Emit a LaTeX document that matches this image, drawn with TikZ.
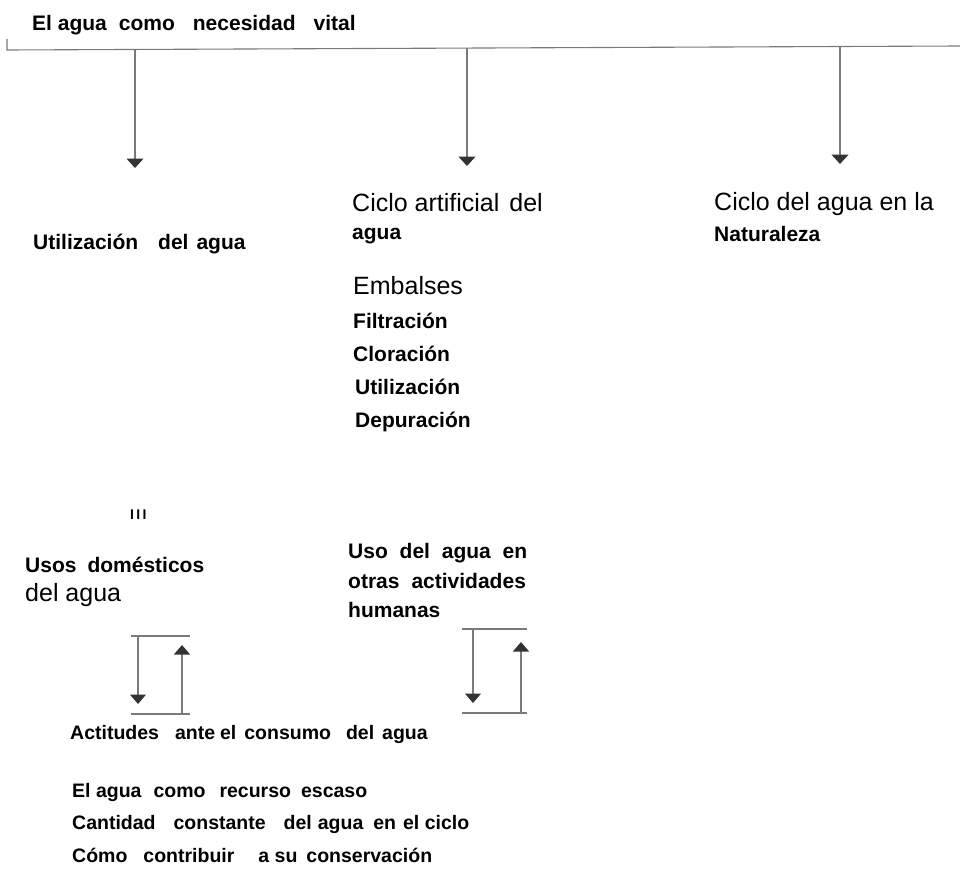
\documentclass[tikz,border=0pt]{standalone}
\usepackage{fontspec}
\setmainfont{Liberation Sans}
\usetikzlibrary{arrows.meta}
\newcommand\gp[1]{\hspace*{#1pt}}
\definecolor{linegray}{HTML}{7A7A7A}
\definecolor{tipgray}{HTML}{333333}
\tikzset{
  txtb/.style={anchor=base west,inner sep=0pt,font=\fontsize{21}{25}\selectfont\bfseries},
  txtbs/.style={anchor=base west,inner sep=0pt,font=\fontsize{19.5}{23}\selectfont\bfseries},
  txtr/.style={anchor=base west,inner sep=0pt,font=\fontsize{25}{29}\selectfont},
  rule/.style={draw=linegray,line width=1.1pt},
  bigarrow/.style={rule,-{Triangle[width=17pt,length=9.5pt,color=tipgray]}},
  smallarrow/.style={rule,-{Triangle[width=16pt,length=9.5pt,color=tipgray]}}
}
\begin{document}
\begin{tikzpicture}[x=1pt,y=-1pt]
\useasboundingbox (0,0) rectangle (960,875);
% title and top bar
\node[txtb] (title) at (32,31) {El agua\gp{12}como\gp{18}necesidad\gp{18}vital};
\coordinate (tk) at (7,39);
\coordinate (hL) at (7,50);
\coordinate (hR) at (960,46);
\draw[rule] (tk) -- (hL) -- (hR);
% main arrows
\coordinate (a1s) at (135,49.6);
\coordinate (a1e) at (135,168);
\coordinate (a2s) at (467,48.2);
\coordinate (a2e) at (467,166);
\coordinate (a3s) at (840,46.6);
\coordinate (a3e) at (840,164);
\draw[bigarrow] (a1s) -- (a1e);
\draw[bigarrow] (a2s) -- (a2e);
\draw[bigarrow] (a3s) -- (a3e);
% branch texts
\node[txtb] (util) at (33,249) {Utilizaci\'on\gp{20}del\gp{8}agua};
\node[txtr] (cart1) at (352,211) {Ciclo artificial\gp{10}del};
\node[txtb] (cart2) at (352,239) {agua};
\node[txtr] (emb) at (353,294) {Embalses};
\node[txtb] (fil) at (353,328) {Filtraci\'on};
\node[txtb] (clo) at (353,361) {Cloraci\'on};
\node[txtb] (uti) at (355,394) {Utilizaci\'on};
\node[txtb] (dep) at (355,427) {Depuraci\'on};
\node[txtr] (cnat1) at (714,210) {Ciclo del agua en la};
\node[txtb] (cnat2) at (714,241) {Naturaleza};
% dots
\node[anchor=base west,inner sep=0pt,font=\fontsize{14}{16}\selectfont\bfseries] (dots) at (130,519) {I\,I\,I};
% lower texts
\node[txtb] (usos1) at (25,572) {Usos\gp{11}dom\'esticos};
\node[txtr] (usos2) at (25,601) {del agua};
\node[txtb] (otr1) at (348,558) {\makebox[179pt][s]{Uso del agua en}};
\node[txtb] (otr2) at (348,588) {otras\gp{12}actividades};
\node[txtb] (otr3) at (348,617) {humanas};
% left bracket
\coordinate (lt1) at (131,636); \coordinate (lt2) at (190,636);
\coordinate (lb1) at (131,714); \coordinate (lb2) at (190,714);
\coordinate (ld1) at (138,636); \coordinate (ld2) at (138,704);
\coordinate (lu1) at (182,714); \coordinate (lu2) at (182,645);
\draw[rule] (lt1) -- (lt2);
\draw[rule] (lb1) -- (lb2);
\draw[smallarrow] (ld1) -- (ld2);
\draw[smallarrow] (lu1) -- (lu2);
% right bracket
\coordinate (rt1) at (462,629); \coordinate (rt2) at (527,629);
\coordinate (rb1) at (462,713); \coordinate (rb2) at (527,713);
\coordinate (rd1) at (473,629); \coordinate (rd2) at (473,703);
\coordinate (ru1) at (521,713); \coordinate (ru2) at (521,642);
\draw[rule] (rt1) -- (rt2);
\draw[rule] (rb1) -- (rb2);
\draw[smallarrow] (rd1) -- (rd2);
\draw[smallarrow] (ru1) -- (ru2);
% attitudes
\node[txtbs] (act) at (70,739) {Actitudes\gp{16}ante\gp{5}el\gp{8}consumo\gp{15}del\gp{8}agua};
\node[txtbs] (esc) at (72,797) {El agua\gp{12}como\gp{14}recurso\gp{10}escaso};
\node[txtbs] (cant) at (72,829) {Cantidad\gp{18}constante\gp{18}del\gp{6}agua\gp{10}en\gp{7}el ciclo};
\node[txtbs] (cons) at (72,862) {C\'omo\gp{16}contribuir\gp{24}a su\gp{9}conservaci\'on};
\end{tikzpicture}
\end{document}
